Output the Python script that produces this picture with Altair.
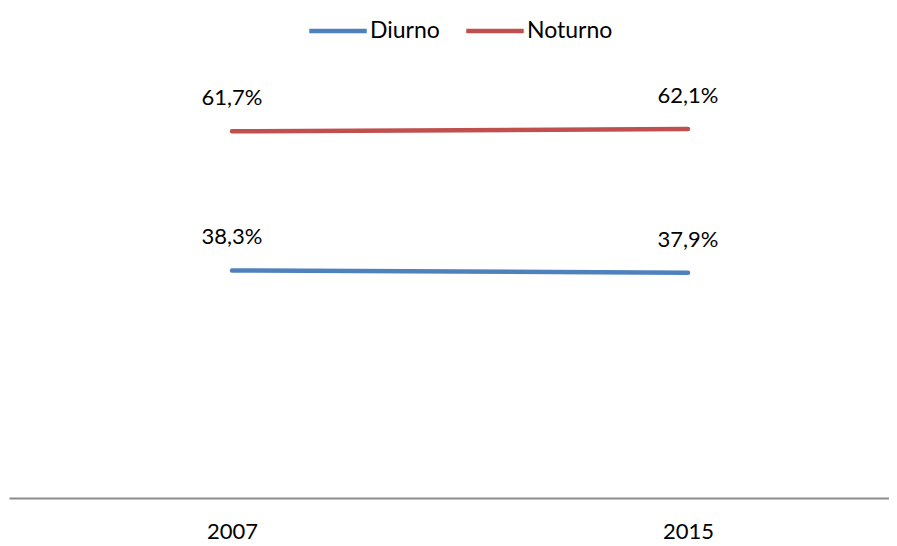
import altair as alt
import pandas as pd

years = [2007, 2015]
series = ["Diurno", "Noturno"]
diurno = [38.3, 37.9]
noturno = [61.7, 62.1]
colors = ["#4F81BD", "#C0504D"]

rows = []
for s, vals in zip(series, [diurno, noturno]):
    for y, v in zip(years, vals):
        rows.append({"serie": s, "ano": y, "valor": v})
df = pd.DataFrame(rows)

FONT = "Lato"
W = 880
PX_PER_YEAR = 57.0
x0 = 2007 - 223 / PX_PER_YEAR
xscale = alt.Scale(domain=[x0, x0 + W / PX_PER_YEAR], nice=False, zero=False)

x = alt.X("ano:Q", scale=xscale,
          axis=alt.Axis(values=years, format="d", title=None, grid=False,
                        ticks=False, domain=True, domainColor="#8c8c8c",
                        domainWidth=2, labelFontSize=22, labelFont=FONT,
                        labelColor="#000000", labelPadding=23, labelFlush=False))
y = alt.Y("valor:Q", scale=alt.Scale(domain=[0, 70], nice=False), axis=None)

color = alt.Color("serie:N",
                  scale=alt.Scale(domain=series, range=colors),
                  legend=alt.Legend(title=None, orient="none", direction="horizontal",
                                    legendX=298, legendY=-82, padding=0,
                                    symbolType="stroke", symbolSize=3300,
                                    symbolStrokeWidth=4.5, labelFontSize=23,
                                    labelFont=FONT, labelColor="#000000",
                                    labelOffset=1, columnPadding=17))

lines = alt.Chart(df).mark_line(strokeWidth=4.5, strokeCap="round").encode(
    x=x, y=y, color=color, detail="serie:N")

labels = alt.Chart(df).transform_calculate(
    rotulo="replace(format(datum.valor, '.1f'), '.', ',') + '%'"
).mark_text(dy=-33, fontSize=22, font=FONT, color="#000000", baseline="middle").encode(
    x=alt.X("ano:Q", scale=xscale),
    y=y, text="rotulo:N")

chart = alt.layer(lines, labels).properties(
    width=W, height=416,
    autosize=alt.AutoSizeParams(type="none"),
    padding={"left": 1, "top": 74, "right": 0, "bottom": 46},
).configure_view(stroke=None)

chart.save("out.html", embed_options={"renderer": "svg", "actions": False})
